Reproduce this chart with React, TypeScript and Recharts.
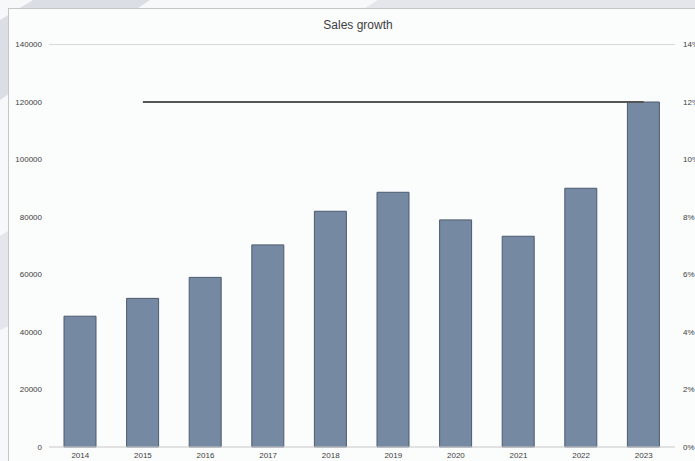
import React from "react";
import { ComposedChart, Bar, Line, XAxis, YAxis, CartesianGrid } from "recharts";

const years = ["2014", "2015", "2016", "2017", "2018", "2019", "2020", "2021", "2022", "2023"];
const sales = [45500, 51700, 59000, 70300, 82000, 88600, 79000, 73300, 90000, 120000];
const growth: (number | null)[] = [null, 0.12, 0.12, 0.12, 0.12, 0.12, 0.12, 0.12, 0.12, 0.12];
const leftTicks = [0, 20000, 40000, 60000, 80000, 100000, 120000, 140000];
const rightTicks = [0, 0.02, 0.04, 0.06, 0.08, 0.1, 0.12, 0.14];

const data = years.map((y, i) => ({ year: y, sales: sales[i], growth: growth[i] }));

const FONT = "'Liberation Sans', Arial, sans-serif";
const tickStyle = { fontSize: 8, fill: "#404040", fontFamily: FONT };

export default function App() {
  return (
    <div style={{ position: "absolute", left: 0, top: 0, width: 695, height: 461, overflow: "hidden", background: "#f7f8fa" }}>
      <svg width={695} height={461} style={{ position: "absolute", left: 0, top: 0 }}>
        <polygon points="33,0 150,0 0,100 0,20" fill="#dcdee6" />
        <polygon points="378,0 800,0 0,330 0,236" fill="#e4e6ec" />
      </svg>
      <div
        style={{
          position: "absolute",
          left: 8,
          top: 8,
          width: 700,
          height: 460,
          background: "#fbfcfc",
          borderTop: "1px solid #c6c6c8",
          borderLeft: "1px solid #c6c6c8",
          boxSizing: "border-box",
        }}
      >
        <div
          style={{
            position: "absolute",
            left: 0,
            top: 9,
            width: 698,
            textAlign: "center",
            fontFamily: FONT,
            fontSize: 12,
            color: "#404040",
          }}
        >
          Sales growth
        </div>
        <ComposedChart
          width={687}
          height={454}
          data={data}
          margin={{ top: 36.5, right: 0, bottom: 0, left: 0 }}
          style={{ position: "absolute", left: -1, top: -1 }}
        >
          <CartesianGrid vertical={false} stroke="#d9d9d9" strokeWidth={1} />
          <XAxis
            dataKey="year"
            tick={tickStyle}
            axisLine={{ stroke: "#d9d9d9" }}
            tickLine={false}
            tickSize={3}
            tickMargin={2}
            height={15}
            interval={0}
          />
          <YAxis
            yAxisId="left"
            domain={[0, 140000]}
            ticks={leftTicks}
            tick={tickStyle}
            axisLine={false}
            tickLine={false}
            tickSize={5}
            tickMargin={2}
            width={41}
            interval={0}
          />
          <YAxis
            yAxisId="right"
            orientation="right"
            domain={[0, 0.14]}
            ticks={rightTicks}
            tickFormatter={(v: number) => `${Math.round(v * 100)}%`}
            tick={{ ...tickStyle, textAnchor: "start" }}
            axisLine={false}
            tickLine={false}
            tickSize={6}
            tickMargin={2}
            width={20}
            interval={0}
          />
          <Bar
            yAxisId="left"
            dataKey="sales"
            fill="#7589a2"
            stroke="#4d5b6e"
            strokeWidth={1}
            barSize={32}
            isAnimationActive={false}
          />
          <Line
            yAxisId="right"
            dataKey="growth"
            stroke="#555555"
            strokeWidth={2}
            dot={false}
            activeDot={false}
            connectNulls={false}
            isAnimationActive={false}
          />
        </ComposedChart>
      </div>
    </div>
  );
}
